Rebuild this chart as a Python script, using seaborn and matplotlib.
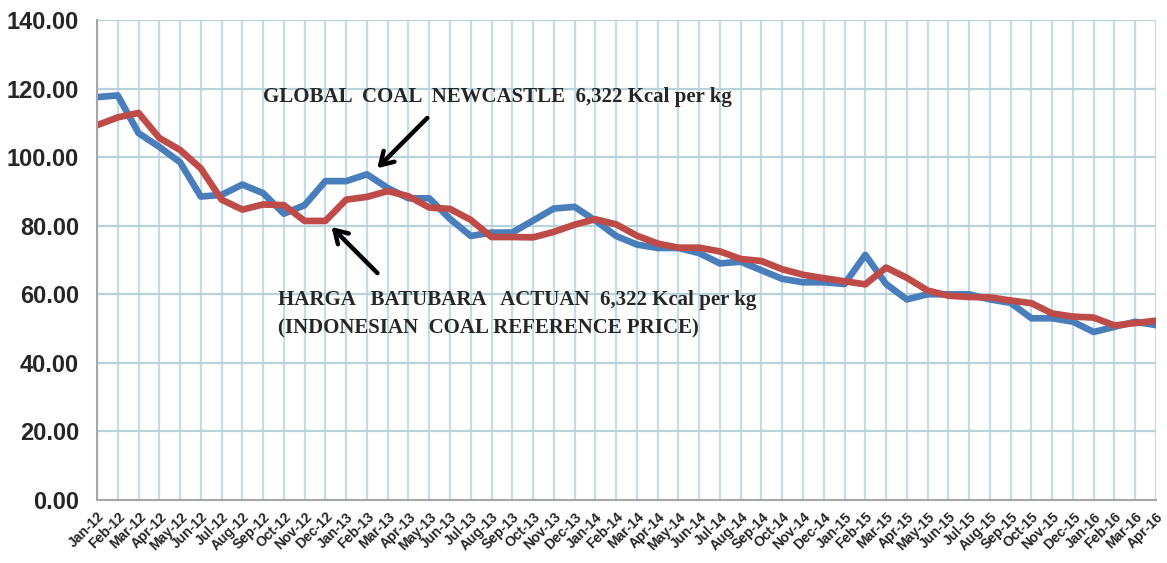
import pandas as pd
import matplotlib
matplotlib.use("Agg")
import matplotlib.pyplot as plt
import seaborn as sns

# Monthly labels Jan-12 .. Apr-16
months = ["Jan", "Feb", "Mar", "Apr", "May", "Jun", "Jul", "Aug", "Sep", "Oct", "Nov", "Dec"]
labels = [f"{m}-{y}" for y in range(12, 17) for m in months][:52]

# Global Coal Newcastle (blue)
newcastle = [117.5, 118.0, 107.0, 103.0, 98.5, 88.5, 89.0, 92.0, 89.5, 83.5, 86.0, 93.0,
             93.0, 95.0, 91.0, 88.0, 88.0, 82.0, 77.0, 78.0, 78.0, 81.5, 85.0, 85.5,
             81.5, 77.0, 74.5, 73.5, 73.5, 72.0, 69.0, 69.5, 67.0, 64.5, 63.5, 63.5,
             63.0, 71.5, 63.0, 58.5, 60.0, 60.0, 60.0, 58.5, 57.5, 53.0, 53.0, 52.0,
             49.0, 50.5, 52.0, 51.0]

# Harga Batubara Acuan (red)
hba = [109.3, 111.6, 112.9, 105.6, 102.1, 96.7, 87.6, 84.7, 86.2, 86.0, 81.4, 81.4,
       87.6, 88.4, 90.1, 88.6, 85.3, 84.9, 81.7, 76.7, 76.7, 76.6, 78.2, 80.3,
       81.9, 80.4, 77.1, 74.8, 73.6, 73.6, 72.5, 70.3, 69.7, 67.3, 65.7, 64.7,
       63.8, 62.9, 67.8, 64.8, 61.1, 59.6, 59.2, 59.1, 58.2, 57.4, 54.4, 53.5,
       53.2, 50.9, 51.6, 52.3]

df = pd.DataFrame({
    "idx": list(range(len(labels))) * 2,
    "price": newcastle + hba,
    "series": ["Newcastle"] * len(labels) + ["HBA"] * len(labels),
})

sns.set_style("white")
plt.rcParams["font.family"] = ["Liberation Sans", "DejaVu Sans"]

fig = plt.figure(figsize=(11.67, 5.63), dpi=100)
ax = fig.add_axes([97 / 1167, 63 / 563, (1156 - 97) / 1167, 480 / 563])

grid_color = "#c3dce6"
for i in range(len(labels)):
    ax.axvline(i, color=grid_color, lw=1.6, zorder=0)
for v in range(20, 141, 20):
    ax.axhline(v, color="#b8d2db", lw=1.6, zorder=0)

sns.lineplot(data=df, x="idx", y="price", hue="series",
             palette={"Newcastle": "#4a7ebb", "HBA": "#be4b48"},
             hue_order=["Newcastle", "HBA"], linewidth=4.8, legend=False, ax=ax)

ax.set_xlim(0, len(labels) - 1)
ax.set_ylim(0, 140)
ax.set_yticks(range(0, 141, 20))
ax.set_yticklabels([f"{v:.2f}" for v in range(0, 141, 20)],
                   fontsize=17, fontweight="bold", color="#262626")
ax.set_xticks(range(len(labels)))
ax.set_xticklabels(labels, rotation=45, ha="right", rotation_mode="anchor",
                   fontsize=10, fontweight="bold", color="#262626")
ax.tick_params(axis="y", length=7, color="#a0a0a0", pad=6)
ax.tick_params(axis="x", length=5, color="#a0a0a0", pad=2)
ax.set_xlabel("")
ax.set_ylabel("")

for s in ["top", "right"]:
    ax.spines[s].set_visible(False)
for s in ["left", "bottom"]:
    ax.spines[s].set_color("#a6a6a6")
    ax.spines[s].set_linewidth(1.5)

serif = ["Liberation Serif", "DejaVu Serif"]
ax.text(8.0, 117.6, "GLOBAL  COAL  NEWCASTLE  6,322 Kcal per kg",
        family=serif, fontsize=15, fontweight="bold", va="center", ha="left")
ax.text(8.7, 58.3, "HARGA   BATUBARA   ACTUAN  6,322 Kcal per kg",
        family=serif, fontsize=15, fontweight="bold", va="center", ha="left")
ax.text(8.7, 50.1, "(INDONESIAN  COAL REFERENCE PRICE)",
        family=serif, fontsize=15, fontweight="bold", va="center", ha="left")

arrow = dict(arrowstyle="->,head_length=0.9,head_width=0.55", color="black", lw=3.2)
ax.annotate("", xy=(13.4, 96.2), xytext=(16.0, 112.0), arrowprops=arrow)
ax.annotate("", xy=(11.2, 80.2), xytext=(13.6, 65.6), arrowprops=arrow)

fig.savefig("out.png", dpi=100)
